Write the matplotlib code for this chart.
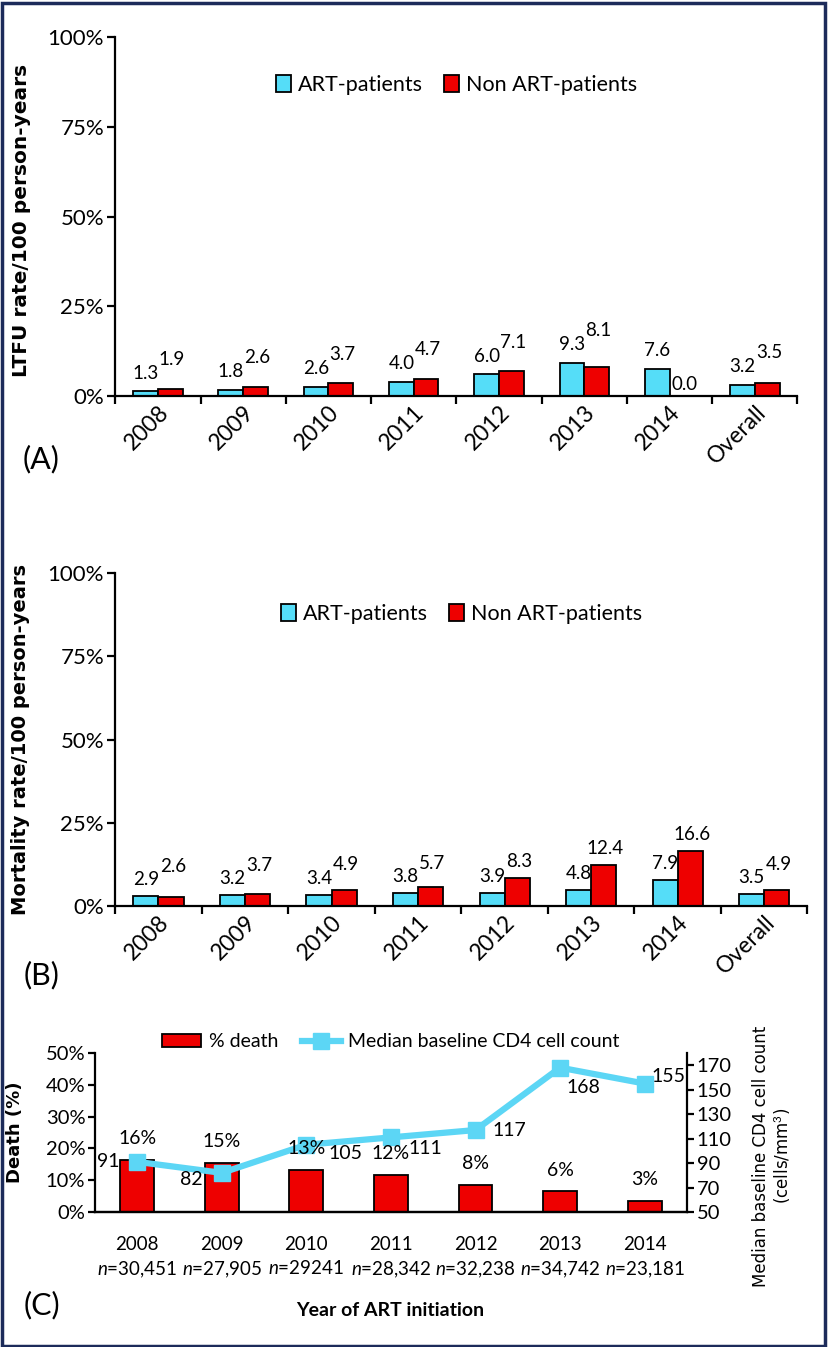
import matplotlib
matplotlib.use('Agg')
import matplotlib.pyplot as plt
import numpy as np
from matplotlib.patches import Rectangle

# data
cats = ['2008', '2009', '2010', '2011', '2012', '2013', '2014', 'Overall']
ltfu_art = [1.3, 1.8, 2.6, 4.0, 6.0, 9.3, 7.6, 3.2]
ltfu_non = [1.9, 2.6, 3.7, 4.7, 7.1, 8.1, 0.0, 3.5]
mort_art = [2.9, 3.2, 3.4, 3.8, 3.9, 4.8, 7.9, 3.5]
mort_non = [2.6, 3.7, 4.9, 5.7, 8.3, 12.4, 16.6, 4.9]

years = ['2008', '2009', '2010', '2011', '2012', '2013', '2014']
n_pat = ['30,451', '27,905', '29241', '28,342', '32,238', '34,742', '23,181']
death_pct = [16.5, 15.5, 13.3, 11.7, 8.5, 6.6, 3.5]
death_lbl = ['16%', '15%', '13%', '12%', '8%', '6%', '3%']
cd4 = [91, 82, 105, 111, 117, 168, 155]

CYAN = '#55DDF8'
RED = '#EE0000'
LINE = '#5CD6F5'

plt.rcParams['font.family'] = ['Lato', 'DejaVu Sans']
plt.rcParams['mathtext.fontset'] = 'custom'
plt.rcParams['mathtext.rm'] = 'Lato'
plt.rcParams['mathtext.it'] = 'Lato:italic'
plt.rcParams['axes.linewidth'] = 1.6

fig = plt.figure(figsize=(8.29, 13.47), dpi=100)


def bar_panel(rect, art, non, ylabel, ylab_size, leg_y):
    ax = fig.add_axes(rect)
    x = np.arange(len(cats))
    w = 0.29
    ax.bar(x - w / 2, art, w, color=CYAN, edgecolor='black', lw=1.3, label='ART-patients')
    ax.bar(x + w / 2, non, w, color=RED, edgecolor='black', lw=1.3, label='Non ART-patients')
    for i in range(len(cats)):
        ya = art[i] + 5
        ax.text(x[i] - w / 2, ya, f'{art[i]:.1f}', ha='center', va='center', fontsize=13.5)
        if non[i] == 0:
            ax.text(x[i] + 0.02, 3.3, f'{non[i]:.1f}', ha='left', va='center', fontsize=13.5)
        else:
            yn = max(non[i] + 5, ya + 4)
            ax.text(x[i] + w / 2 + 0.02, yn, f'{non[i]:.1f}', ha='center', va='center', fontsize=13.5)
    ax.set_xlim(-0.5, len(cats) - 0.5)
    ax.set_ylim(0, 100)
    ax.set_yticks([0, 25, 50, 75, 100])
    ax.set_yticklabels(['0%', '25%', '50%', '75%', '100%'], fontsize=16)
    ax.set_xticks(x)
    ax.set_xticklabels(cats, rotation=45, ha='right', rotation_mode='anchor', fontsize=16.5)
    ax.tick_params(axis='x', which='major', length=0, pad=4)
    ax.set_xticks(np.arange(len(cats) + 1) - 0.5, minor=True)
    ax.tick_params(axis='x', which='minor', length=6, width=1.6, direction='out')
    ax.tick_params(axis='y', length=6, width=1.6, pad=2)
    for s in ['top', 'right']:
        ax.spines[s].set_visible(False)
    ax.set_ylabel(ylabel, fontsize=ylab_size, fontweight='bold', family='DejaVu Sans')
    ax.legend(loc='center', bbox_to_anchor=(0.5, leg_y), ncol=2, frameon=False, fontsize=15.5,
              handlelength=0.7, handleheight=0.8, handletextpad=0.3, columnspacing=1.0)
    return ax


axA = bar_panel([0.139, 0.706, 0.823, 0.2665], ltfu_art, ltfu_non,
                'LTFU rate/100 person-years', 14.5, 0.866)
axA.yaxis.set_label_coords(-0.123, 0.49)
axB = bar_panel([0.139, 0.3274, 0.835, 0.2472], mort_art, mort_non,
                'Mortality rate/100 person-years', 14, 0.877)
axB.yaxis.set_label_coords(-0.123, 0.5)

# panel C
axC = fig.add_axes([0.1146, 0.1002, 0.714, 0.1181])
xc = np.arange(len(years))
axC.bar(xc, death_pct, 0.4, color=RED, edgecolor='black', lw=1.3, label='% death', zorder=2)
axC.set_xlim(-0.5, len(years) - 0.5)
axC.set_ylim(0, 50)
axC.set_yticks([0, 10, 20, 30, 40, 50])
axC.set_yticklabels(['0%', '10%', '20%', '30%', '40%', '50%'], fontsize=14.5)
axC.set_xticks(xc)
axC.set_xticklabels([f'{y}\n$n$=' + n for y, n in zip(years, n_pat)], fontsize=13.5, linespacing=1.45)
axC.tick_params(axis='x', length=0, pad=17)
axC.tick_params(axis='y', length=5, width=1.6, pad=2)
for s in ['top', 'right']:
    axC.spines[s].set_visible(False)
axC.set_ylabel('Death (%)', fontsize=13, fontweight='bold', family='DejaVu Sans')
axC.yaxis.set_label_coords(-0.12, 0.5)

axR = axC.twinx()
axR.plot(xc, cd4, color=LINE, lw=4.5, marker='s', ms=12, mfc=LINE, mec=LINE,
         label='Median baseline CD4 cell count', zorder=3)
# death % labels sit on top of the line
for i in range(len(years)):
    axR.text(xc[i], death_pct[i] + 6.6, death_lbl[i], ha='center', va='center', fontsize=14,
             transform=axC.transData, zorder=5)
cd4_offsets = [(-21, 0), (-22, -5), (28, -6), (25, -8), (24, 0), (17, -14), (17, 5)]
for i in range(len(years)):
    axR.annotate(str(cd4[i]), (xc[i], cd4[i]), xytext=cd4_offsets[i], textcoords='offset points',
                 ha='center', va='center', fontsize=14, zorder=5)
axR.set_ylim(50, 180)
axR.set_yticks(np.arange(50, 171, 20))
axR.tick_params(axis='y', length=5, width=1.6, pad=2, labelsize=14.5)
for s in ['top', 'left']:
    axR.spines[s].set_visible(False)
axR.spines['right'].set_linewidth(1.6)
axR.set_ylabel('Median baseline CD4 cell count\n(cells/mm$^3$)', fontsize=12,
               family='DejaVu Sans', linespacing=1.1)
axR.yaxis.set_label_coords(1.11, 0.35)

h1, l1 = axC.get_legend_handles_labels()
h2, l2 = axR.get_legend_handles_labels()
axC.legend(h1 + h2, l1 + l2, loc='center', bbox_to_anchor=(0.5, 1.07), ncol=2, frameon=False,
           fontsize=14, handlelength=2.0, handletextpad=0.4, columnspacing=1.2)

fig.text(0.471, 0.027, 'Year of ART initiation', ha='center', va='center', fontsize=14,
         fontweight='bold')
fig.text(0.05, 0.659, '(A)', ha='center', va='center', fontsize=22)
fig.text(0.05, 0.276, '(B)', ha='center', va='center', fontsize=22)
fig.text(0.05, 0.031, '(C)', ha='center', va='center', fontsize=22)

fig.add_artist(Rectangle((0.002, 0.001), 0.993, 0.997, transform=fig.transFigure,
                         fill=False, edgecolor='#1C2B5A', lw=2.5))

fig.savefig('out.png', dpi=100)
